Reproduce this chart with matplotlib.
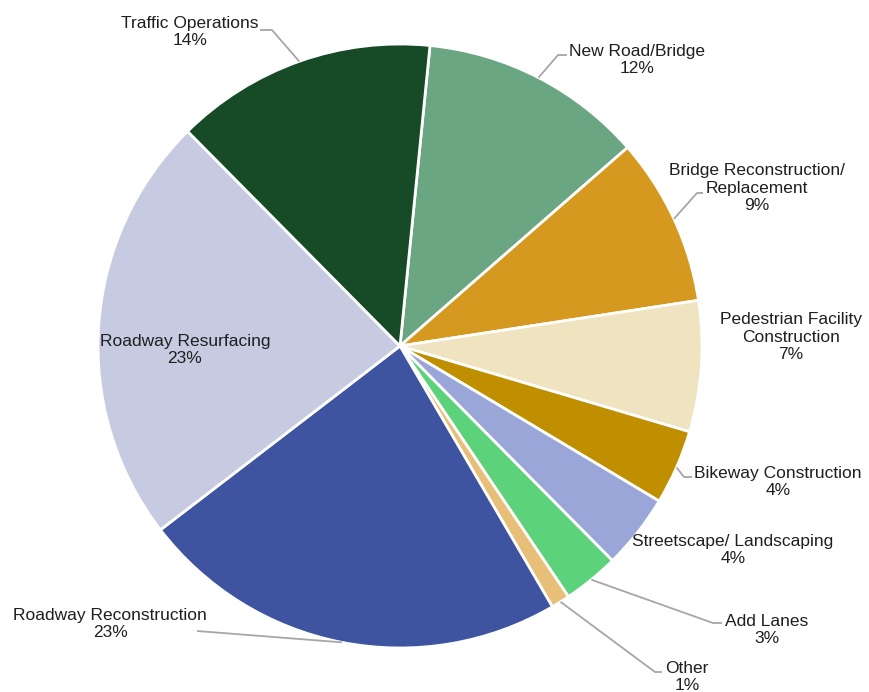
import numpy as np
import matplotlib
matplotlib.use("Agg")
import matplotlib.pyplot as plt

plt.rcParams['font.family'] = ['Liberation Sans', 'DejaVu Sans']

categories = ["New Road/Bridge", "Bridge Reconstruction/\nReplacement",
              "Pedestrian Facility\nConstruction", "Bikeway Construction",
              "Streetscape/ Landscaping", "Add Lanes", "Other",
              "Roadway Reconstruction", "Roadway Resurfacing", "Traffic Operations"]
shares = [12, 9, 7, 4, 4, 3, 1, 23, 23, 14]
colors = ["#6aa681", "#d6991f", "#f0e3bf", "#bf8f00", "#9aa6d8",
          "#5cd27a", "#e8bf79", "#3f54a0", "#c6cbe2", "#174a27"]

W, H = 869, 692
fig = plt.figure(figsize=(W / 100, H / 100), dpi=100)
ax = fig.add_axes([0, 0, 1, 1])

cx, cy, r = 400, H - 346, 302
start = 84.3
wedges, _ = ax.pie(shares, colors=colors, startangle=start, counterclock=False,
                   center=(cx, cy), radius=r,
                   wedgeprops=dict(edgecolor="white", linewidth=2))
ax.set_xlim(0, W)
ax.set_ylim(0, H)
ax.set_aspect("equal")
ax.axis("off")

# label layout in pixel space (x, y from top), optional elbow and end of leader
layout = {
    "New Road/Bridge": dict(pos=(637, 60), elbow=(558, 55), end=(567, 55)),
    "Bridge Reconstruction/\nReplacement": dict(pos=(757, 188), elbow=(697, 193), end=(703, 193)),
    "Pedestrian Facility\nConstruction": dict(pos=(791, 337)),
    "Bikeway Construction": dict(pos=(778, 482), elbow=(684, 477), end=(692, 477)),
    "Streetscape/ Landscaping": dict(pos=(733, 550)),
    "Add Lanes": dict(pos=(767, 630), elbow=(713, 623), end=(722, 623)),
    "Other": dict(pos=(687, 677), elbow=(655, 672), end=(662, 672)),
    "Roadway Reconstruction": dict(pos=(110, 624), elbow=(197, 631), end=(197, 631)),
    "Roadway Resurfacing": dict(pos=(185, 350)),
    "Traffic Operations": dict(pos=(190, 32), elbow=(272, 30), end=(260, 30)),
}

lead_col = "#a6a6a6"
for w, name, val in zip(wedges, categories, shares):
    spec = layout[name]
    mid = np.deg2rad((w.theta1 + w.theta2) / 2)
    ex, ey = cx + r * np.cos(mid), cy + r * np.sin(mid)
    if "elbow" in spec:
        bx, by = spec["elbow"]
        qx, qy = spec["end"]
        ax.plot([ex, bx, qx], [ey, H - by, H - qy], color=lead_col, lw=1.3,
                solid_capstyle="butt", zorder=3)
    px, py = spec["pos"]
    ax.text(px, H - py, f"{name}\n{val}%", ha="center", va="center",
            fontsize=12.5, color="#1f1f1f", linespacing=1.22, zorder=4)

fig.savefig("out.png", dpi=100, facecolor="white")
